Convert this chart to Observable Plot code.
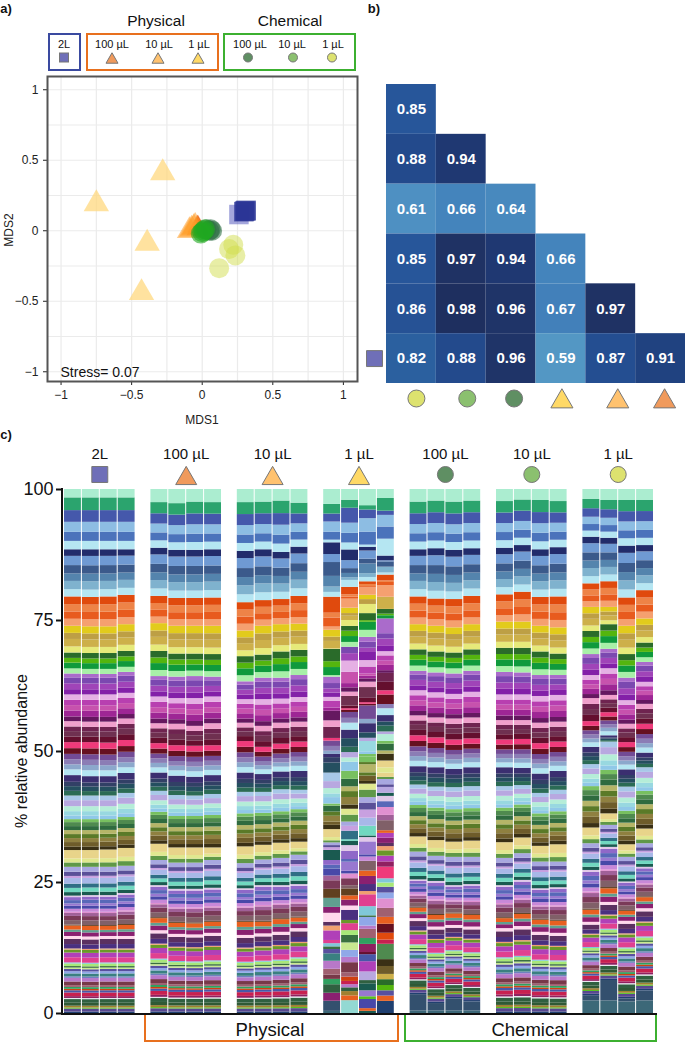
<!DOCTYPE html>
<html><head><meta charset="utf-8">
<script src="https://cdn.jsdelivr.net/npm/d3@7"></script>
<script src="https://cdn.jsdelivr.net/npm/@observablehq/plot@0.6"></script>
<style>
html,body{margin:0;padding:0;background:#fff}
#page{position:relative;width:685px;height:1043px;overflow:hidden;font-family:"Liberation Sans",Arial,sans-serif;color:#111}
.abs{position:absolute}
.abs svg{display:block;overflow:visible}
.t{position:absolute;transform:translate(-50%,-50%);white-space:nowrap}
.box{position:absolute;box-sizing:border-box}
</style></head><body><div id="page"></div>
<script>
// ---------- panel a: NMDS scores ----------
const nmds2L = [[0.31,0.14],[0.30,0.14],[0.295,0.135],[0.31,0.145]];
const nmds2Lfaint = [[0.26,0.115]];
const nmdsP1 = [[-0.28,0.41],[-0.75,0.19],[-0.39,-0.09],[-0.43,-0.44]];
const nmdsP10 = [[-0.09,0.0],[-0.075,0.01],[-0.06,0.02],[-0.05,0.03]];
const nmdsP100 = [[-0.035,0.03],[-0.03,0.02],[-0.04,0.01],[-0.03,0.03]];
const nmdsC100 = [[0.07,0.0],[0.05,0.0],[0.03,0.01],[0.06,0.01]];
const nmdsC10 = [[0.0,-0.01],[0.02,0.01],[-0.01,-0.02],[0.01,0.0]];
const nmdsC1 = [[0.22,-0.10],[0.19,-0.13],[0.235,-0.175],[0.12,-0.265]];

// ---------- panel b: pairwise similarity ----------
const heatCols = ["C 1 µL","C 10 µL","C 100 µL","P 1 µL","P 10 µL","P 100 µL"];
const heatRows = ["C 10 µL","C 100 µL","P 1 µL","P 10 µL","P 100 µL","2L"];
const heatValues = [
  [0.85],
  [0.88,0.94],
  [0.61,0.66,0.64],
  [0.85,0.97,0.94,0.66],
  [0.86,0.98,0.96,0.67,0.97],
  [0.82,0.88,0.96,0.59,0.87,0.91]
];
const heatDomain = [.59,.61,.64,.66,.67,.82,.85,.88,.91,.94,.96,.98];
const heatRange = ["#5397C4","#4E90C2","#4889BE","#4484BC","#4280BA","#2B609F","#27569A","#234A8C","#204280","#1F3872","#1F3468","#1E2F5F"];

// ---------- panel c: taxa, top of the stack first ----------
const taxonColors = ["#ABEDD0",
"#2BA46E","#4558AB","#8DBDE3","#4B73BB","#B5E6F2",
"#222C6B","#6F9AD3","#3B5A8B","#5484AD","#7FB2CE","#B5E6F2",
"#E04A0D","#EE8347","#E85B1E","#F5A070",
"#E2CB1C","#BD9F45","#CDB04A","#E6EA7A",
"#2A6B2A","#54B50E","#0F9A3C","#A8EFA8",
"#AA6BCB","#7B48B0","#A044B8","#8320A8",
"#E5B0E4","#B83FB0","#C752AD","#9E2695","#651860",
"#F0A0CC","#6F2450","#6F3050","#640F2E",
"#EF3A7A","#661020","#734B95","#8B7DB5","#8CA8CC","#B5E6F2",
"#3B2F70","#324066","#254F60","#2B6B55",
"#A8C8E8","#B8A8E0","#B5EDD8","#98D8E0","#90C8E8",
"#78C060","#4F8A4F","#2F6B3F","#B5B568","#5A7A28","#8F8040","#6E5C2A","#3A3015",
"#E8D48A","#E0E890","#5F9848",
"#A8A8E0","#5A5098","#C8A0E0","#A8B8E8","#2F6E85","#70D8C0","#1A5A50",
"#E0C8E8","#8F68C8","#5868B8","#9878D0","#4848A8","#C888D8","#E090D0","#A06098","#7A3A58","#806068","#604020",
"#E86020","#60A090","#8A2070",
"#FFD8EC","#5B3060","#4A3080","#F0A070","#6A9828","#B040B8","#E04090","#80C8D8","#A8E878","#3A7040","#C8E890","#58509F","#90A8E8","#3A8080","#7080C0","#B878C8","#783848","#A06070","#30A060","#D04010","#4858A8","#C82050","#902060","#E8E8F0","#306040","#2F5A35","#A08030","#58C020","#584890","#204070",
"#33506E","#3C6878","#93D9D3"];
// relative thickness of each taxon inside its block, read from the first 2L column
const taxonShare = [1,
38,35,30,27,25, 20,28,25,23,25,22, 23,22,22,21, 21,18,22,18, 16,14,17,15, 12,18,18,16,
16,16,16,18,14, 16,14,16,17, 18,17,16,15,15,17, 20,13,14,14, 14,18,15,13,11,
9,12,12,12,12,12,14,10, 25,12,13, 14,12,6,16,12,12,10, 5,10,11,8,10,10,4,10,14,15,3, 12,7,12,
8,14,12,3,8,13,14,3,7,4,4,6,6,8,4,10,10,5,5,4,6,10,5,3,10,8,5,3,8,4, 1,1,1];
// first taxon of each visually distinct block
const blockStarts = [0,1,6,12,16,20,24,28,33,37,43,47,52,60,63,70,81,84,114,115,116];

// cumulative % at the lower edge of each block, one row per replicate
const cum2L = [
[98.4,88.5,79.5,73.9,68.8,64.8,60.8,55.7,51.7,45.4,41.5,37.0,31.1,27.9,22.4,16.7,14.7,0,0],
[98.4,88.5,79.4,73.8,68.7,64.7,60.8,55.6,51.7,45.2,41.5,37.0,31.1,27.9,22.5,16.6,14.6,0,0],
[98.4,88.5,79.5,73.8,68.7,64.7,60.8,55.6,51.6,45.2,41.5,37.0,31.2,27.9,22.5,16.6,14.7,0,0],
[98.4,88.5,79.8,74.2,69.1,65.1,61.1,56.2,52.1,45.8,42.0,37.4,31.5,28.1,22.9,16.8,14.7,0,0]];
const cumP100 = [
[97.5,88.8,79.6,74.4,69.1,64.3,60.4,55.3,51.5,45.9,42.4,38.4,32.3,29.2,24.4,18.1,15.8,0,0],
[97.3,88.4,79.2,73.9,68.6,64.2,60.1,55.2,51.1,45.3,41.6,37.6,31.6,28.7,23.7,17.2,15.1,0,0],
[97.6,88.4,79.2,73.9,68.6,64.3,60.1,54.8,51.0,45.1,41.5,37.6,31.6,28.7,23.7,17.1,15.0,0,0],
[97.5,88.5,79.3,73.9,68.5,64.2,60.4,55.3,51.1,45.4,41.8,37.8,31.6,29.2,23.9,17.4,15.3,0,0]];
const cumP10 = [
[97.5,88.2,78.4,73.0,68.1,63.3,59.9,55.4,51.9,45.9,42.2,38.1,31.8,28.6,23.8,17.4,14.9,0,0],
[97.6,88.5,78.8,73.9,68.4,64.0,59.9,54.8,50.8,45.6,42.2,38.2,32.1,29.3,24.4,17.4,15.2,0,0],
[97.8,88.0,79.0,74.2,69.0,64.0,60.0,55.4,51.4,46.1,42.7,38.5,32.5,29.6,24.4,17.9,15.5,0,0],
[97.4,89.0,79.6,74.3,69.3,64.5,60.3,55.6,51.8,46.2,42.6,38.9,32.7,30.2,24.6,18.2,16.2,0,0]];
const cumC100 = [
[97.6,88.5,79.5,74.2,69.4,65.3,61.6,56.8,53.0,47.1,43.6,39.7,33.7,30.8,25.5,20.1,18.1,3.6,0.5],
[97.8,88.7,79.1,73.9,69.0,65.0,61.2,56.4,52.6,46.9,43.2,39.2,33.0,30.0,25.2,18.7,16.5,1.9,0.5],
[97.6,88.4,79.0,73.6,68.8,64.8,60.9,56.2,52.2,46.6,43.1,38.9,32.7,29.8,24.4,19.0,16.8,2.8,0.5],
[97.8,88.7,79.6,74.2,69.4,65.3,61.3,56.4,52.4,46.9,43.3,39.1,32.9,29.8,24.6,18.7,16.5,2.2,0.5]];
const cumC10 = [
[97.7,88.8,79.9,74.7,69.7,65.1,60.8,55.9,52.2,46.9,43.3,39.2,32.6,29.6,24.4,18.1,16.2,0,0],
[98.0,89.3,80.4,74.7,69.7,65.0,60.8,55.9,52.3,46.8,43.5,39.8,33.5,30.5,25.4,18.9,16.6,0,0],
[97.9,88.5,79.4,73.9,69.0,64.5,60.5,55.4,51.5,45.7,42.0,38.1,31.9,28.9,23.8,17.8,15.5,0,0],
[97.7,88.9,79.5,73.6,68.6,64.5,60.7,55.6,51.8,46.2,42.6,38.5,32.2,28.9,24.0,17.6,15.3,0,0]];
const cumC1 = [
[98.1,90.9,82.0,77.5,72.9,68.5,64.5,60.1,55.7,50.8,47.5,43.3,35.4,32.4,27.3,19.7,17.4,3.4,2.4],
[97.9,90.7,82.4,77.5,74.2,69.5,65.8,60.7,57.4,53.0,51.8,46.4,38.1,35.9,31.7,23.8,21.2,6.3,2.4],
[97.9,89.2,79.3,73.9,68.5,64.0,59.7,55.2,51.7,46.5,43.2,38.6,32.2,29.8,25.1,19.5,17.6,2.8,2.2],
[97.9,89.3,80.7,75.3,70.7,67.0,63.2,59.0,55.2,49.7,46.9,42.4,35.2,32.4,27.9,22.1,20.0,4.3,2.4]];

// physical 1 µL replicates differ too much for blocks: [taxon, %], top to bottom
const segP1a = [[0,2.8],[1,1.8],[2,1.5],[3,1.9],[4,1.5],[5,.5],[6,2.2],[7,1.5],[8,2.6],[9,2],[10,1],[11,.9],[12,3],[13,.9],[14,1.7],[15,.6],[16,1.3],[17,.8],[18,1.4],[19,.1],[20,2.3],[21,1.1],[22,1.5],[23,.3],[24,1.2],[25,1],[26,.8],[27,.8],[28,.7],[29,1.3],[31,.6],[32,1.8],[33,1.2],[34,2.1],[37,.5],[39,1],[40,.9],
[41,.6],[43,.6],[44,1],[45,1.9],[47,1.6],[48,1.3],[49,1],[50,.7],[51,1.2],[52,.4],[54,1.1],[56,.8],[57,1.1],[58,.6],[59,.8],[60,1.5],[61,.6],[62,.4],[63,.5],[64,.4],[65,.5],[69,1.9],[71,.9],[72,.7],[74,1.3],[77,.9],[78,1.6],[80,1.7],[82,1.7],[83,1.1],[84,1.7],[85,.7],[87,.9],[89,1.8],[90,.6],[91,.6],[93,.5],[95,.8],[97,1.4],[99,1.5],[101,1.1],[100,.8],[102,1],[108,1.6],[83,1.5],[114,1.9],[115,.4]];
const segP1b = [[0,2],[1,1.5],[2,2.8],[3,1.9],[4,1.8],[5,1.3],[6,2],[7,1.5],[8,.9],[9,.8],[10,.5],[11,1.3],[12,1.4],[13,.4],[14,.4],[15,1.7],[16,1],[17,.5],[18,.8],[19,1.1],[20,.9],[21,1],[22,1.1],[23,.9],[25,1.2],[26,1.4],[28,2.1],[30,2.1],[31,.8],[32,.8],[33,.8],[35,1.8],[36,.5],[37,.3],[38,.4],[39,1.1],[40,.9],[42,1.3],[43,1.6],[45,1.6],[46,1],
[48,1],[49,.8],[51,1.7],[52,1.5],[54,1.4],[55,.9],[56,1.1],[57,1.4],[59,.8],[61,1.1],[62,1.3],[63,.8],[65,.9],[67,1.6],[68,.3],[69,.8],[70,1.1],[71,1.5],[72,.5],[73,1.7],[74,.5],[76,.9],[78,1.3],[79,.6],[80,1.3],[81,.8],[83,1.1],[84,.8],[86,1.9],[88,.6],[90,1.3],[92,.9],[93,1.4],[94,1.4],[96,1.3],[99,1],[100,1.9],[101,.8],[103,.8],[105,.6],[99,.6],[108,.7],[110,.8],[81,.9],[116,2.4]];
const segP1c = [[0,3],[1,.8],[2,1.6],[3,2.5],[4,2.4],[5,.4],[6,.7],[7,1.5],[8,.9],[9,1.8],[10,.7],[11,.8],[12,.5],[13,.4],[14,.2],[15,1.4],[16,.8],[17,.9],[19,1.7],[20,1.3],[21,.3],[22,1.5],[23,1.3],[24,.9],[25,1.1],[26,.8],[27,1.5],[28,1.2],[29,1.3],[30,.4],[31,.5],[32,.6],[33,1],[35,2],[36,.8],[37,.3],[38,.3],[39,2.5],[41,.8],[43,1.7],[45,1],[48,.6],[50,1.9],[51,.5],[52,.5],
[52,1],[56,.4],[55,1.5],[56,.6],[58,1],[59,.5],[61,1.1],[62,1.4],[63,1],[64,1.3],[65,1.5],[66,1.5],[68,1.8],[69,.3],[70,.8],[73,2.4],[74,.4],[75,.8],[79,1.8],[81,1],[83,1.5],[86,1.3],[87,.6],[90,2.2],[91,1.7],[93,.3],[96,1.6],[99,.6],[101,1.7],[102,1.1],[106,1.5],[36,.4],[104,1.3],[89,1.9],[48,1.6],[108,.6],[69,1.3],[73,1.1],[111,.5],[74,1.7],[81,.5],[69,.4]];
const segP1d = [[0,1.7],[1,2.4],[2,.8],[3,2.2],[4,2.3],[5,3.2],[6,.9],[7,.2],[8,1],[10,1.1],[11,.4],[12,1.1],[13,.3],[14,.6],[15,2.2],[18,2.3],[20,.9],[21,.3],[22,.6],[24,2.8],[25,1],[26,1.4],[27,1],[28,.8],[29,1],[30,.8],[31,1],[32,.5],[34,1.7],[36,1.6],[37,.8],[38,1.8],[40,.8],[42,1.3],[43,1.2],[45,.8],[46,1.1],[48,.5],[49,1.3],[52,.5],[54,1.3],
[55,.6],[59,1.3],[60,1.3],[61,1],[60,.8],[62,.4],[63,1],[64,.5],[48,1.1],[69,.6],[70,1],[72,1.1],[76,1.5],[77,1],[79,1.9],[81,.5],[89,.9],[83,1],[85,.6],[87,.8],[88,1],[89,1.1],[106,1],[37,2.2],[91,.8],[92,.8],[95,1.1],[96,1.1],[76,1.8],[101,1.7],[81,1.3],[38,1.7],[12,1.3],[105,.8],[53,2.9],[59,1.3],[58,1.5],[18,1],[20,1.1],[21,1],[95,1],[81,1],[113,2.3]];

const groupNames = ["2L","P 100 µL","P 10 µL","P 1 µL","C 100 µL","C 10 µL","C 1 µL"];
const groupTitles = ["2L","100 µL","10 µL","1 µL","100 µL","10 µL","1 µL"];
const groupSymbols = ["square","triangle","triangle","triangle","circle","circle","circle"];
const groupFills = ["#6F6FB8","#F09A5C","#FFC26F","#FFD966","#5F8F63","#8BC06F","#DDE26F"];
const groupColumns = [cum2L,cumP100,cumP10,[segP1a,segP1b,segP1c,segP1d],cumC100,cumC10,cumC1];

// ---------- build the tidy table for the stack ----------
function blocksToSegments(cum){
  const edges=[100,...cum,0], out=[];
  blockStarts.slice(0,-1).forEach((s,b)=>{
    const e=blockStarts[b+1], h=edges[b]-edges[b+1];
    if(h<=0) return;
    const tot=d3.sum(taxonShare.slice(s,e));
    for(let i=s;i<e;i++) out.push([i,h*taxonShare[i]/tot]);
  });
  return out;
}
const stackRows=[];
groupNames.forEach((g,gi)=>{
  groupColumns[gi].forEach((col,si)=>{
    const segs = Array.isArray(col[0]) ? col : blocksToSegments(col);
    const tot = d3.sum(segs,d=>d[1]);
    segs.slice().reverse().forEach(([taxon,p])=>stackRows.push({group:g,sample:si,taxon,pct:p*100/tot}));
  });
});
const heatCells=[];
heatRows.forEach((r,i)=>heatValues[i].forEach((v,j)=>heatCells.push({row:r,col:heatCols[j],v})));

// ---------- shared ----------
const FONT='"Liberation Sans",Arial,sans-serif';
const page=document.getElementById("page");
function place(node,left,top){const d=document.createElement("div");d.className="abs";d.style.left=left+"px";d.style.top=top+"px";d.appendChild(node);page.appendChild(d);}
function txt(s,x,y,size,extra=""){page.insertAdjacentHTML("beforeend",`<div class="t" style="left:${x}px;top:${y}px;font-size:${size}px;${extra}">${s}</div>`);}
function box(x,y,w,h,css){page.insertAdjacentHTML("beforeend",`<div class="box" style="left:${x}px;top:${y}px;width:${w}px;height:${h}px;${css}"></div>`);}
const minusFmt=d=>String(d).replace("-","−");

// ---------- panel a ----------
const gridVals=d3.range(-4,5).map(d=>d/4);
const series=(data,symbol,r,fill,op)=>Plot.dot(data,{x:d=>d[0],y:d=>d[1],symbol,r,fill,fillOpacity:op,stroke:"none"});
place(Plot.plot({
  width:365,height:360,marginLeft:47,marginRight:8,marginTop:6,marginBottom:49,
  style:{fontFamily:FONT,fontSize:"12px",color:"#222",background:"transparent"},
  x:{domain:[-1.096,1.1],ticks:[-1,-.5,0,.5,1],tickFormat:minusFmt,label:null,tickSize:4},
  y:{domain:[-1.069,1.094],ticks:[-1,-.5,0,.5,1],tickFormat:minusFmt,label:null,tickSize:4},
  marks:[
    Plot.ruleX(gridVals,{stroke:"#EBEBEB",strokeWidth:1.2}),
    Plot.ruleY(gridVals,{stroke:"#EBEBEB",strokeWidth:1.2}),
    series(nmdsP1,"triangle",9.4,"#FFD77A",.72),
    series(nmdsP100,"triangle",7.5,"#E8590C",.6),
    series(nmdsP10,"triangle",9.4,"#FF9F2A",.55),
    series(nmds2Lfaint,"square",11,"#5A5CC0",.55),
    series(nmds2L,"square",11,"#2B3596",.7),
    series(nmdsC100,"circle",10,"#2F6F45",.6),
    series(nmdsC10,"circle",10,"#1FA81F",.6),
    series(nmdsC1,"circle",10,"#D2DE4E",.5),
    Plot.text(["Stress= 0.07"],{frameAnchor:"bottom-left",dx:13,dy:-5,fontSize:14,fill:"#111",lineAnchor:"bottom"}),
    Plot.frame({stroke:"#555",strokeWidth:2})
  ]
}),0,70);
txt("MDS1",202,420,12,"color:#222");
txt("MDS2",9,230,12,"color:#222;transform:translate(-50%,-50%) rotate(-90deg)");

// legend of panel a
const tri=(cx,cy,w,fill)=>{const h=w*.87;return `<polygon points="${cx-w/2},${cy+h/2} ${cx+w/2},${cy+h/2} ${cx},${cy-h/2}" fill="${fill}" stroke="#777" stroke-width="1"/>`;};
const circ=(cx,cy,r,fill)=>`<circle cx="${cx}" cy="${cy}" r="${r}" fill="${fill}" stroke="#777" stroke-width="1"/>`;
const sq=(cx,cy,s,fill)=>`<rect x="${cx-s/2}" y="${cy-s/2}" width="${s}" height="${s}" fill="${fill}" stroke="#777" stroke-width="1"/>`;
box(48,33,33,38,"border:2px solid #3A4AA0");
box(86,33,133,38,"border:2px solid #E8701E");
box(223,33,133,38,"border:2px solid #3CB030");
txt("Physical",156,21,15.5);
txt("Chemical",290,21,15.5);
txt("2L",64,44,11);
[["100 µL",112],["10 µL",159],["1 µL",199],["100 µL",250],["10 µL",292],["1 µL",333]].forEach(([s,x])=>txt(s,x,44,11));
page.insertAdjacentHTML("beforeend",`<svg class="abs" style="left:0;top:0" width="685" height="90">${
  sq(64,57.5,9,groupFills[0])+tri(112,58,12,groupFills[1])+tri(158,58,12,groupFills[2])+tri(198,58,12,groupFills[3])+circ(248,57.5,4.5,groupFills[4])+circ(293,57.5,4.5,groupFills[5])+circ(332,57.5,4.5,groupFills[6])
}</svg>`);

// ---------- panel b ----------
const heatGlyph=(c,i)=>{
  const sym=i<3?"circle":"triangle", fills=[groupFills[6],groupFills[5],groupFills[4],groupFills[3],groupFills[2],groupFills[1]];
  const off=[5,6,3,1,7,4][i];
  return Plot.dot([c],{x:d=>d,frameAnchor:"bottom",dy:i<3?15:18,dx:off,symbol:sym,r:i<3?8.5:8.2,fill:fills[i],stroke:"#777",strokeWidth:1});
};
place(Plot.plot({
  width:325,height:340,marginLeft:26,marginRight:0,marginTop:4,marginBottom:37,
  style:{fontFamily:FONT,background:"transparent"},
  x:{domain:heatCols,padding:0,round:false,axis:null},
  y:{domain:heatRows,padding:0,round:false,axis:null},
  color:{type:"linear",domain:heatDomain,range:heatRange,interpolate:"rgb"},
  marks:[
    Plot.cell(heatCells,{x:"col",y:"row",fill:"v"}),
    Plot.text(heatCells,{x:"col",y:"row",text:d=>d.v.toFixed(2),fill:"white",fontWeight:"bold",fontSize:15}),
    ...heatCols.map(heatGlyph),
    Plot.dot(["2L"],{y:d=>d,frameAnchor:"left",dx:-12,symbol:"square",r:9,fill:groupFills[0],stroke:"#777",strokeWidth:1})
  ]
}),360,80);

// ---------- panel c ----------
const headers=groupNames.map((group,i)=>({group,title:groupTitles[i],symbol:groupSymbols[i],fill:groupFills[i]}));
const headGlyph=(sym,r,dy)=>Plot.dot(headers.filter(d=>d.symbol===sym),{fx:"group",frameAnchor:"top",dy,symbol:sym,r,fill:{value:"fill",scale:null},stroke:"#777",strokeWidth:1});
place(Plot.plot({
  width:685,height:613,marginLeft:64,marginRight:32,marginTop:59,marginBottom:30,
  style:{fontFamily:FONT,background:"transparent"},
  fx:{domain:groupNames,padding:0.183,paddingOuter:0,round:false,axis:null,label:null},
  x:{domain:[0,1,2,3],padding:0.056,paddingOuter:0,round:false,axis:null},
  y:{domain:[0,100],ticks:[0,25,50,75,100],label:null,axis:null},
  color:{type:"ordinal",domain:d3.range(taxonColors.length),range:taxonColors},
  marks:[
    Plot.barY(stackRows,{fx:"group",x:"sample",y:"pct",fill:"taxon"}),
    Plot.text(headers,{fx:"group",frameAnchor:"top",dy:-35,lineAnchor:"middle",text:"title",fontSize:15,fill:"#111"}),
    headGlyph("square",9,-15),
    headGlyph("triangle",7.8,-11),
    headGlyph("circle",8,-15),
    Plot.axisY({ticks:[0,25,50,75,100],anchor:"left",facetAnchor:"left",tickSize:5,tickPadding:3,dx:-3,fontSize:18,label:null,stroke:"#111",strokeWidth:2,fill:"#111"})
  ]
}),0,430);
box(60.5,488,2.5,527,"background:#111");
box(60.5,1012.5,596,2.5,"background:#111");
box(144,1015,255,27,"border:2px solid #E8701E;border-top:none");
box(404,1015,253,27,"border:2px solid #3CB030;border-top:none");
txt("Physical",270,1030,18.5);
txt("Chemical",530,1030,18.5);
txt("% relative abundance",22,751,16,"transform:translate(-50%,-50%) rotate(-90deg)");
txt("a)",6,8,13,"font-weight:bold");
txt("b)",374,8,13,"font-weight:bold");
txt("c)",6,434,13,"font-weight:bold");
</script></body></html>
